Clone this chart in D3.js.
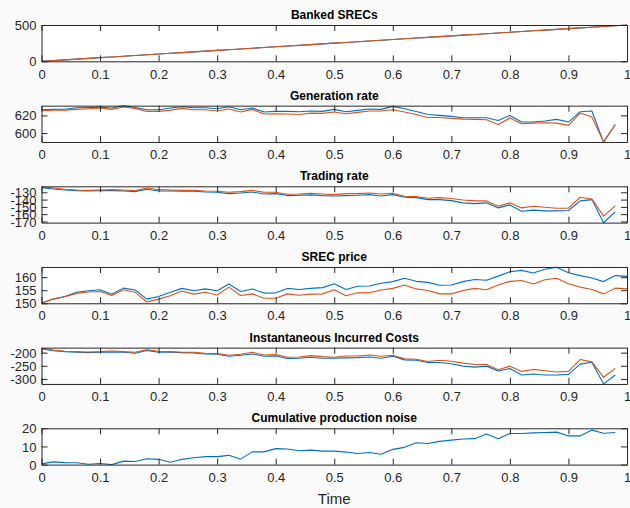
<!DOCTYPE html>
<html>
<head>
<meta charset="utf-8">
<script src="https://cdn.jsdelivr.net/npm/d3@7"></script>
<style>
  html, body { margin: 0; padding: 0; background: #fafafa; }
  svg { display: block; font-family: "Liberation Sans", Arial, Helvetica, sans-serif; }
</style>
</head>
<body>
<svg id="chart" width="630" height="508"></svg>
<script>
// ---------- DATA ----------
const timeFull = [0,0.02,0.04,0.06,0.08,0.1,0.12,0.14,0.16,0.18,0.2,0.22,0.24,0.26,0.28,0.3,0.32,0.34,0.36,0.38,0.4,0.42,0.44,0.46,0.48,0.5,0.52,0.54,0.56,0.58,0.6,0.62,0.64,0.66,0.68,0.7,0.72,0.74,0.76,0.78,0.8,0.82,0.84,0.86,0.88,0.9,0.92,0.94,0.96,0.98,1.0];
const xTicks = [0,0.1,0.2,0.3,0.4,0.5,0.6,0.7,0.8,0.9,1];
const xTickLabels = ["0","0.1","0.2","0.3","0.4","0.5","0.6","0.7","0.8","0.9","1"];

const bankedBlue   = [0,10,20,30,40,50,60,70,80,90,100,110,120,130,140,150,160,170,180,190,200,210,220,230,240,250,260,270,280,290,300,310,320,330,340,350,360,370,380,390,400,410,420,430,440,450,460,470,480,490,500];
const bankedOrange = [0,10,20,30,40,50,60,70,80,90,100,110,120,130,140,150,160,170,180,190,200,210,220,230,240,250,260,270,280,290,300,310,320,330,340,350,360,370,380,390,400,410,420,430,440,450,460,470,480,490,500];

const genBlue   = [626.4,626.8,627,628.7,629,629.4,628.3,631,629,626.4,626.4,628.3,629.8,628.7,628.7,627.5,629.8,626.4,628.3,623.8,624.5,624.5,624.2,625,624.5,626.8,624.2,625.7,627.2,626.8,630.2,627.5,624.5,621.1,620,618.9,617.4,617.4,617.4,614.3,620,612.5,612.5,613.6,615.5,612.5,624.2,625,589.8,609.8];
const genOrange = [625.3,626,626,626.8,627.5,628.3,626.8,629.4,627.9,624.5,624.5,626,627.9,626.4,626.4,624.9,627.2,623.8,626.8,621.5,621.9,621.5,621.1,622.6,622.3,623.8,621.9,623.4,624.9,624.9,626.4,623.8,621.1,617.7,617.7,616.6,615.8,615.5,615.1,609.8,617,610.6,611.3,611.7,611.3,608.7,622.6,618.1,589.8,609.8];

const tradeBlue   = [-123.6,-125.5,-126.8,-127.7,-128.2,-127.7,-127.7,-128.2,-129.1,-125.9,-128.2,-128.2,-128.6,-128.6,-129.5,-130,-131.8,-130.9,-129.5,-132.3,-131.8,-134.5,-134.1,-133.6,-134.5,-135,-134.5,-134.1,-133.2,-135,-133.2,-136.8,-137.3,-140,-140,-141.4,-144.5,-145.5,-144.5,-151.4,-147.3,-155.9,-154.5,-155.5,-155.5,-155,-141.8,-140,-171.8,-156.4];
const tradeOrange = [-122.3,-124.1,-125.9,-126.8,-127.3,-126.8,-126.4,-126.8,-127.7,-124.1,-126.4,-126.8,-127.3,-127.3,-128.2,-128.6,-130,-129.1,-127.3,-130,-130,-132.7,-132.3,-131.4,-132.3,-133.2,-131.8,-131.8,-130.9,-132.3,-131.4,-135.5,-135.9,-138.2,-137.3,-138.6,-140.5,-141.8,-141.8,-149.1,-144.5,-151.4,-149.1,-150.5,-151.8,-151.8,-136.8,-139.1,-162.7,-148.6];

const priceBlue   = [150,151.6,152.6,154.2,154.8,155.2,153.5,155.8,155.1,151.6,152.6,154.2,155.7,154.8,155.5,154.8,157.4,154.5,155.5,153.9,154,155.7,155.3,155.7,156,157.5,155.3,156.5,156.6,157.7,158.3,159.6,158.4,158,156.9,157,158.3,159.1,158.8,160.4,162.1,162.6,161.6,163,163.8,161.7,160.6,159.7,158.3,160.6,160.3];
const priceOrange = [150,151.6,152.5,153.8,154.3,154.5,153,155.2,154.2,150.5,151.6,152.9,154.7,153.5,154.2,153.2,156.2,153,153.6,151.9,151.9,153.6,153.1,153.5,153.6,155.2,152.9,154,154,155.1,155.7,157,155.5,154.9,153.6,153.6,154.9,155.7,155.2,157,158.4,158.7,157.4,159,159.6,157.5,156.2,155.3,153.6,155.8,155.5];

const costBlue   = [-185,-192.5,-196.3,-198.8,-200,-198.8,-197.5,-198.8,-202.5,-191.3,-198.8,-198.8,-200,-201.3,-205,-206.3,-213.8,-210,-205,-213.8,-212.5,-222.5,-221.3,-217.5,-221.3,-221.3,-220,-218.8,-216.3,-221.3,-213.8,-227.5,-228.8,-237.5,-237.5,-242.5,-251.3,-255,-251.3,-270,-260,-285,-281.3,-285,-285,-282.5,-243.8,-236.3,-318.8,-285];
const costOrange = [-183.8,-190,-195,-196.3,-197.5,-196.3,-193.8,-196.3,-198.8,-188.8,-195,-196.3,-198.8,-198.8,-202.5,-203.8,-210,-206.3,-198.8,-208.8,-207.5,-217.5,-216.3,-211.3,-215,-217.5,-212.5,-212.5,-208.8,-213.8,-210,-223.8,-225,-233.8,-228.8,-232.5,-240,-245,-245,-265,-251.3,-271.3,-263.8,-268.8,-273.8,-271.3,-226.3,-235,-293.8,-260];

const noiseBlue = [0.4,1.5,1.1,1.0,0.2,0.6,0,1.9,1.7,3.2,2.9,1.3,2.9,3.8,4.4,4.4,5.1,3.0,7.0,7.0,8.8,8.6,7.6,8.0,7.4,7.4,6.9,6.1,6.7,5.7,8.4,9.5,12,11.6,12.8,13.5,14.1,14.3,16.8,14.3,17.1,17.1,17.5,17.7,17.9,15.8,15.8,19,17.3,17.7];

const titles = ["Banked SRECs","Generation rate","Trading rate","SREC price","Instantaneous Incurred Costs","Cumulative production noise"];
const yDomains = [[0,500],[590,631],[-171.6,-121.8],[150,163.9],[-319,-181],[0,20]];
const yTicksList = [[0,500],[600,620],[-170,-160,-150,-140,-130],[150,155,160],[-300,-250,-200],[0,10,20]];
const seriesList = [
  [bankedBlue, bankedOrange],
  [genBlue, genOrange],
  [tradeBlue, tradeOrange],
  [priceBlue, priceOrange],
  [costBlue, costOrange],
  [noiseBlue]
];
const seriesColors = ["#0072BD", "#D95319"];
const xLabel = "Time";

// ---------- LAYOUT ----------
const svg = d3.select("#chart");
const left = 41.5, right = 627;
const top0 = 25, step = 80.66, ph = 36.3;
const axisColor = "#262626";
const tickLen = 6;

const x = d3.scaleLinear().domain([0, 1]).range([left, right]);

titles.forEach((title, k) => {
  const top = top0 + k * step;
  const bottom = top + ph;
  const y = d3.scaleLinear().domain(yDomains[k]).range([bottom, top]);
  const g = svg.append("g");

  g.append("rect").attr("x", left).attr("y", top)
    .attr("width", right - left).attr("height", ph)
    .attr("fill", "#ffffff");

  const clipId = "clip" + k;
  g.append("clipPath").attr("id", clipId).append("rect")
    .attr("x", left).attr("y", top - 1).attr("width", right - left).attr("height", ph + 2);

  const line = d3.line()
    .x((d, i) => x(timeFull[i]))
    .y(d => y(d));
  seriesList[k].forEach((vals, si) => {
    g.append("path")
      .datum(vals)
      .attr("d", line)
      .attr("fill", "none")
      .attr("stroke", seriesColors[si])
      .attr("stroke-width", 1.1)
      .attr("stroke-linejoin", "round")
      .attr("clip-path", `url(#${clipId})`);
  });

  const xb = d3.axisBottom(x).tickValues(xTicks).tickFormat((d, i) => xTickLabels[i])
    .tickSizeInner(-tickLen).tickSizeOuter(0).tickPadding(12);
  const xt = d3.axisTop(x).tickValues(xTicks).tickFormat("")
    .tickSizeInner(-tickLen).tickSizeOuter(0);
  const yl = d3.axisLeft(y).tickValues(yTicksList[k]).tickFormat(d => String(d))
    .tickSizeInner(-tickLen).tickSizeOuter(0).tickPadding(5);
  const yr = d3.axisRight(y).tickValues(yTicksList[k]).tickFormat("")
    .tickSizeInner(-tickLen).tickSizeOuter(0);

  const gxb = g.append("g").attr("transform", `translate(0,${bottom})`).call(xb);
  const gxt = g.append("g").attr("transform", `translate(0,${top})`).call(xt);
  const gyl = g.append("g").attr("transform", `translate(${left},0)`).call(yl);
  const gyr = g.append("g").attr("transform", `translate(${right},0)`).call(yr);

  [gxb, gxt, gyl, gyr].forEach(a => {
    a.selectAll("path.domain").attr("stroke", axisColor).attr("stroke-width", 1);
    a.selectAll(".tick line").attr("stroke", axisColor).attr("stroke-width", 1);
    a.selectAll(".tick text").attr("fill", "#262626").style("font-size", "13px")
      .style("font-family", "'Liberation Sans', Arial, Helvetica, sans-serif");
  });
  gxb.selectAll(".tick text").attr("dy", "0.71em").attr("y", 8);
  gyl.selectAll(".tick text").attr("dy", "0.35em");

  g.append("text")
    .attr("x", (left + right) / 2)
    .attr("y", top - 6)
    .attr("text-anchor", "middle")
    .attr("font-weight", "bold")
    .attr("font-size", "12px")
    .attr("fill", "#000")
    .text(title);
});

svg.append("text")
  .attr("x", (left + right) / 2)
  .attr("y", 504)
  .attr("text-anchor", "middle")
  .attr("font-size", "15px")
  .attr("fill", "#262626")
  .text(xLabel);
</script>
</body>
</html>
